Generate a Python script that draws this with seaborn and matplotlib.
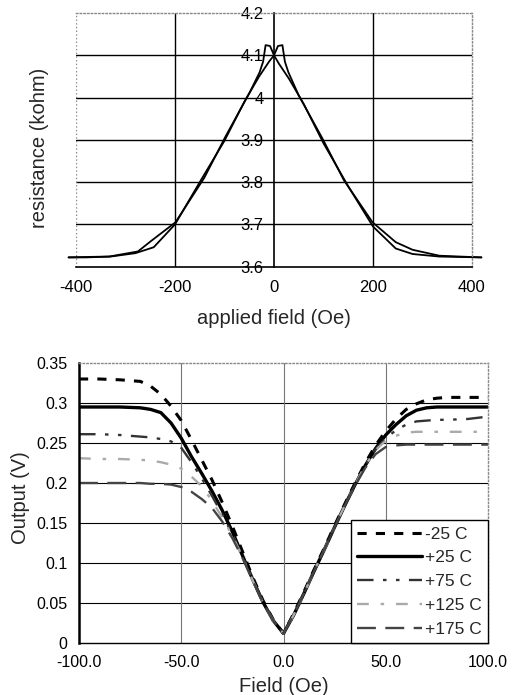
import numpy as np
import pandas as pd
import seaborn as sns
import matplotlib.pyplot as plt

# top panel: resistance loop, two sweep directions
up_field = [-415, -380, -330, -280, -243, -200, -150, -100, -60, -30, -10, 0, 8, 17, 22, 29, 50, 97, 141, 199, 246, 280, 334, 375, 419]
up_res = [3.622, 3.622, 3.624, 3.632, 3.646, 3.700, 3.800, 3.898, 3.990, 4.050, 4.085, 4.100, 4.122, 4.124, 4.085, 4.060, 4.005, 3.905, 3.805, 3.705, 3.658, 3.640, 3.626, 3.624, 3.622]
down_field = [419, 375, 334, 280, 246, 200, 150, 100, 60, 30, 10, 0, -8, -17, -22, -29, -50, -97, -141, -199, -247, -275, -333, -380, -415]
down_res = [3.622, 3.623, 3.624, 3.630, 3.643, 3.695, 3.790, 3.892, 3.985, 4.045, 4.080, 4.100, 4.122, 4.124, 4.085, 4.060, 4.010, 3.910, 3.810, 3.705, 3.662, 3.636, 3.624, 3.623, 3.622]

res_ticks = [3.6, 3.7, 3.8, 3.9, 4.0, 4.1, 4.2]
res_ticklabels = ["3.6", "3.7", "3.8", "3.9", "4", "4.1", "4.2"]
applied_ticks = [-400, -200, 0, 200, 400]
applied_ticklabels = ["-400", "-200", "0", "200", "400"]

# bottom panel: sensor output vs field at five temperatures
field = [-100, -90, -80, -70, -65, -60, -55, -50, -45, -40, -35, -30, -25, -20, -15, -10, -5, 0,
         5, 10, 15, 20, 25, 30, 35, 40, 45, 50, 55, 60, 65, 70, 75, 80, 90, 100]
out_m25 = [0.330, 0.330, 0.329, 0.327, 0.321, 0.311, 0.296, 0.278, 0.254, 0.229, 0.204, 0.176, 0.146, 0.114, 0.082, 0.053, 0.029, 0.012,
           0.037, 0.064, 0.092, 0.119, 0.147, 0.174, 0.200, 0.225, 0.247, 0.265, 0.280, 0.292, 0.299, 0.304, 0.306, 0.307, 0.307, 0.307]
out_p25 = [0.295, 0.295, 0.295, 0.294, 0.292, 0.288, 0.275, 0.256, 0.233, 0.212, 0.190, 0.166, 0.139, 0.109, 0.079, 0.051, 0.028, 0.012,
           0.035, 0.062, 0.090, 0.117, 0.145, 0.172, 0.198, 0.222, 0.243, 0.260, 0.273, 0.284, 0.291, 0.294, 0.295, 0.295, 0.295, 0.295]
out_p75 = [0.261, 0.261, 0.260, 0.258, 0.257, 0.255, 0.252, 0.244, 0.226, 0.206, 0.184, 0.161, 0.136, 0.108, 0.079, 0.051, 0.028, 0.012,
           0.035, 0.062, 0.090, 0.117, 0.145, 0.172, 0.198, 0.222, 0.242, 0.256, 0.266, 0.273, 0.277, 0.278, 0.279, 0.279, 0.280, 0.283]
out_p125 = [0.231, 0.230, 0.230, 0.229, 0.228, 0.226, 0.223, 0.218, 0.208, 0.196, 0.178, 0.157, 0.134, 0.107, 0.078, 0.050, 0.028, 0.012,
            0.035, 0.062, 0.090, 0.117, 0.145, 0.172, 0.198, 0.222, 0.241, 0.253, 0.259, 0.263, 0.264, 0.264, 0.264, 0.264, 0.264, 0.264]
out_p175 = [0.200, 0.200, 0.200, 0.200, 0.199, 0.199, 0.198, 0.195, 0.189, 0.180, 0.169, 0.152, 0.131, 0.106, 0.078, 0.050, 0.028, 0.012,
            0.035, 0.062, 0.090, 0.117, 0.145, 0.172, 0.197, 0.219, 0.236, 0.245, 0.247, 0.248, 0.248, 0.248, 0.248, 0.248, 0.248, 0.248]
temps = ["-25 C", "+25 C", "+75 C", "+125 C", "+175 C"]

out_ticks = [0, 0.05, 0.1, 0.15, 0.2, 0.25, 0.3, 0.35]
out_ticklabels = ["0", "0.05", "0.1", "0.15", "0.2", "0.25", "0.3", "0.35"]
field_ticks = [-100, -50, 0, 50, 100]
field_ticklabels = ["-100.0", "-50.0", "0.0", "50.0", "100.0"]

df = pd.DataFrame({
    "field": field * 5,
    "out": out_m25 + out_p25 + out_p75 + out_p125 + out_p175,
    "temp": np.repeat(temps, len(field)),
})

sns.set_style("white")
plt.rcParams["font.family"] = ["Liberation Sans", "DejaVu Sans"]
plt.rcParams["axes.unicode_minus"] = False

fig = plt.figure(figsize=(5.19, 6.95), dpi=100)

# ---- top panel
ax1 = fig.add_axes([76/519, 1 - 266.7/695, 396/519, 253.7/695])
sns.lineplot(x=up_field, y=up_res, sort=False, estimator=None, color="black", linewidth=1.3, clip_on=False, ax=ax1)
sns.lineplot(x=down_field, y=down_res, sort=False, estimator=None, color="black", linewidth=1.3, clip_on=False, ax=ax1)
ax1.set_xlim(-400, 400)
ax1.set_ylim(3.6, 4.2)
for v in res_ticks[1:-1]:
    ax1.axhline(v, color="black", lw=1.0, zorder=0)
for v in [-200, 200]:
    ax1.axvline(v, color="black", lw=1.0, zorder=0)
ax1.axvline(-400, color="#888888", lw=1.0, ls=":", zorder=0)
ax1.spines["left"].set_position(("data", 0))
ax1.spines["left"].set_color("black")
ax1.spines["left"].set_linewidth(1.2)
ax1.spines["bottom"].set_color("black")
ax1.spines["bottom"].set_linewidth(1.2)
for s in ["top", "right"]:
    ax1.spines[s].set_linestyle(":")
    ax1.spines[s].set_color("#888888")
    ax1.spines[s].set_linewidth(1.0)
ax1.set_yticks(res_ticks)
ax1.set_yticklabels(res_ticklabels)
ax1.set_xticks(applied_ticks)
ax1.set_xticklabels(applied_ticklabels)
ax1.tick_params(axis="both", direction="inout", length=7, width=1, labelsize=12, colors="black")
ax1.tick_params(axis="y", pad=4)
ax1.tick_params(axis="x", pad=6)
ax1.set_xlabel("applied field (Oe)", fontsize=14.5, va="center")
ax1.set_ylabel("resistance (kohm)", fontsize=14.5, va="center")
ax1.xaxis.set_label_coords(0.5, -0.205)
ax1.yaxis.set_label_coords(-0.092, 0.47)

# ---- bottom panel
ax2 = fig.add_axes([79/519, 1 - 643/695, 409/519, 280/695])
for v in out_ticks[1:-1]:
    ax2.axhline(v, color="black", lw=0.8, zorder=0)
for v in [-50, 0, 50]:
    ax2.axvline(v, color="#777777", lw=0.8, zorder=0)
sns.lineplot(data=df, x="field", y="out", hue="temp", size="temp", style="temp",
             palette={"-25 C": "black", "+25 C": "black", "+75 C": "#333333",
                      "+125 C": "#aaaaaa", "+175 C": "#444444"},
             sizes={"-25 C": 2.2, "+25 C": 2.4, "+75 C": 1.7, "+125 C": 1.7, "+175 C": 1.7},
             dashes={"-25 C": (3, 3), "+25 C": "", "+75 C": (7, 4, 1.5, 4, 1.5, 4),
                     "+125 C": (5, 5, 1.5, 5), "+175 C": (8, 4)},
             sort=False, estimator=None, ax=ax2)
ax2.set_xlim(-100, 100)
ax2.set_ylim(0, 0.35)
ax2.spines["left"].set_color("black")
ax2.spines["left"].set_linewidth(1.8)
ax2.spines["bottom"].set_color("black")
ax2.spines["bottom"].set_linewidth(1.0)
for s in ["top", "right"]:
    ax2.spines[s].set_linestyle(":")
    ax2.spines[s].set_color("#888888")
    ax2.spines[s].set_linewidth(1.0)
ax2.set_yticks(out_ticks)
ax2.set_yticklabels(out_ticklabels)
ax2.set_xticks(field_ticks)
ax2.set_xticklabels(field_ticklabels)
ax2.tick_params(axis="both", direction="inout", length=7, width=1, labelsize=11.5, colors="black")
ax2.tick_params(axis="y", pad=5)
ax2.tick_params(axis="x", pad=5)
ax2.set_xlabel("Field (Oe)", fontsize=14.5, va="center")
ax2.set_ylabel("Output (V)", fontsize=14.5, va="center")
ax2.xaxis.set_label_coords(0.5, -0.154)
ax2.yaxis.set_label_coords(-0.144, 0.52)

leg = ax2.get_legend()
handles = leg.legend_handles
labels = [t.get_text() for t in leg.get_texts()]
ax2.legend(handles, labels, loc="lower right", bbox_to_anchor=(1, 0), borderaxespad=0,
           frameon=True, fancybox=False, edgecolor="black", framealpha=1, fontsize=12.5,
           handlelength=3.7, handletextpad=0.2, labelspacing=0.5, borderpad=0.35)
ax2.get_legend().get_frame().set_linewidth(1.0)

fig.savefig("out.png", dpi=100)
